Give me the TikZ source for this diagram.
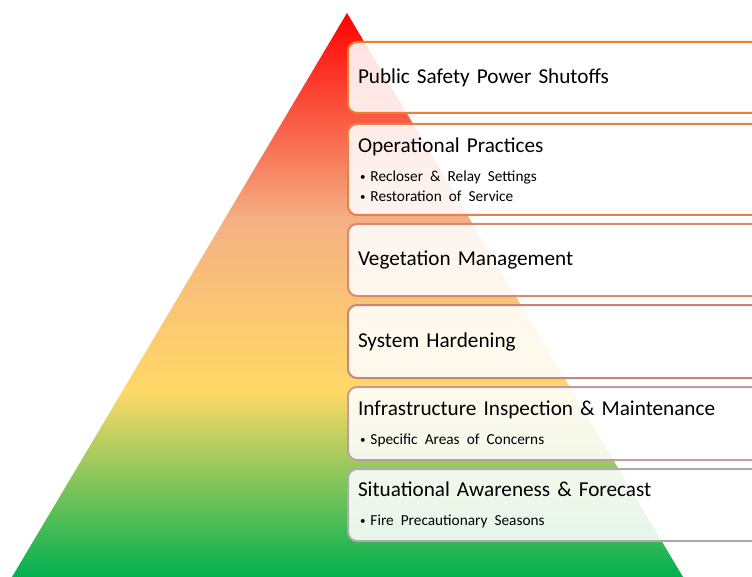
\documentclass[tikz,border=0pt]{standalone}
\usepackage{fontspec}
\setmainfont[WordSpace=0.7]{Carlito}
\usetikzlibrary{positioning}
\definecolor{colorRed}{RGB}{255, 0, 0}
\definecolor{colorSalmon}{RGB}{244, 177, 131}
\definecolor{colorGold}{RGB}{255, 217, 102}
\definecolor{colorGreen}{RGB}{0, 176, 80}
\definecolor{colorLvA}{RGB}{237, 125, 49}
\definecolor{colorLvB}{RGB}{228, 130, 78}
\definecolor{colorLvC}{RGB}{215, 138, 112}
\definecolor{colorLvD}{RGB}{200, 134, 122}
\definecolor{colorLvE}{RGB}{190, 158, 158}
\definecolor{colorLvF}{RGB}{172, 172, 172}
\tikzstyle{level} = [rectangle, rounded corners=9pt, line width=2pt, fill=white, fill opacity=0.88, text opacity=1, text width=400pt, inner xsep=10pt, minimum height=72pt, align=left, anchor=west, font=\fontsize{21.2}{24}\selectfont]
\newcommand{\itm}[1]{{\fontsize{15.3}{18}\selectfont\hspace*{2pt}\raisebox{0.8pt}{\fontsize{11}{11}\selectfont\textbullet}\hspace{5pt}#1}}

\begin{document}
\begin{tikzpicture}[x=1pt, y=-1pt]

	\useasboundingbox (0,0) rectangle (752,577);
	\clip (0,0) rectangle (752,577);

	% pyramid
	\coordinate (apex) at (347,13);
	\coordinate (baseL) at (12,577);
	\coordinate (baseR) at (683,577);
	\begin{scope}
		\clip (apex) -- (baseL) -- (baseR) -- cycle;
		\shade[top color=colorRed, bottom color=colorSalmon] (0,12) rectangle (752,221);
		\shade[top color=colorSalmon, bottom color=colorGold] (0,220) rectangle (752,392);
		\shade[top color=colorGold, bottom color=colorGreen] (0,391) rectangle (752,578);
	\end{scope}

	% levels
	\node (pPSPS)[level, draw=colorLvA, minimum height=71pt] at (347,77.5) {Public Safety Power Shutoffs};
	\node (pOperation)[level, draw=colorLvB, minimum height=91pt] at (347,169.5) {Operational Practices\\[5pt]
		\itm{Recloser \& Relay Settings}\\[-4pt]
		\itm{Restoration of Service}};
	\node (pVegetation)[level, draw=colorLvC] at (347,260) {Vegetation Management};
	\node (pHardening)[level, draw=colorLvD, minimum height=73pt] at (347,341.5) {System Hardening};
	\node (pInspection)[level, draw=colorLvE, minimum height=73pt] at (347,423.5) {Infrastructure Inspection \& Maintenance\\[5pt]
		\itm{Specific Areas of Concerns}};
	\node (pAwareness)[level, draw=colorLvF] at (347,505) {Situational Awareness \& Forecast\\[5pt]
		\itm{Fire Precautionary Seasons}};

\end{tikzpicture}
\end{document}
